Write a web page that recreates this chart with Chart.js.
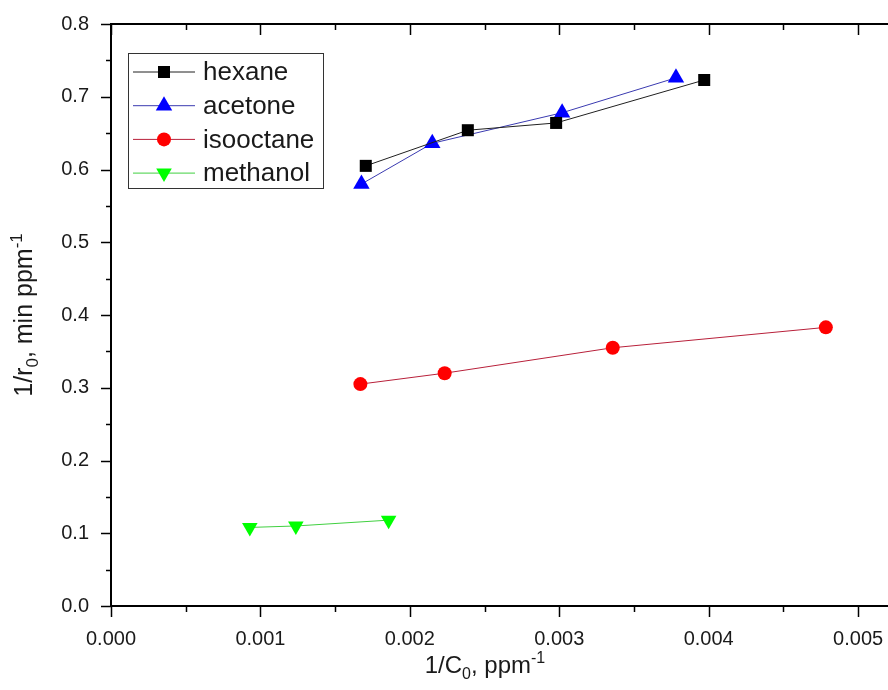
<!DOCTYPE html>
<html>
<head>
<meta charset="utf-8">
<script src="https://cdn.jsdelivr.net/npm/chart.js@4.4.1/dist/chart.umd.min.js"></script>
<style>
  html, body { margin:0; padding:0; background:#fff; overflow:hidden; }
  #wrap { width:888px; height:690px; }
</style>
</head>
<body>
<div id="wrap"><canvas id="chart" width="888" height="690"></canvas></div>
<script>
// tick values
const xTicks = [0, 0.001, 0.002, 0.003, 0.004, 0.005];
const xMinor = [0.0005, 0.0015, 0.0025, 0.0035, 0.0045];
const yTicks = [0, 0.1, 0.2, 0.3, 0.4, 0.5, 0.6, 0.7, 0.8];
const yMinor = [0.05, 0.15, 0.25, 0.35, 0.45, 0.55, 0.65, 0.75];

// series (1/C0 vs 1/r0)
const hexaneX = [0.001705, 0.002388, 0.002979, 0.003970];
const hexaneY = [0.605, 0.654, 0.664, 0.723];
const acetoneX = [0.001676, 0.002150, 0.003019, 0.003781];
const acetoneY = [0.580, 0.636, 0.678, 0.726];
const isooctaneX = [0.001669, 0.002233, 0.003358, 0.004784];
const isooctaneY = [0.305, 0.320, 0.355, 0.383];
const methanolX = [0.000929, 0.001237, 0.001858];
const methanolY = [0.108, 0.110, 0.118];

const FONT = '"Liberation Sans", Arial, sans-serif';

function pts(xs, ys){ return xs.map((x,i)=>({x:x, y:ys[i]})); }

// text with sub/superscripts, y is the baseline
function richText(ctx, parts, x, y, size){
  let w = 0;
  parts.forEach(p=>{ ctx.font = (p.s ? Math.round(size*0.68) : size)+'px '+FONT; w += ctx.measureText(p.t).width; });
  let cx = x - w/2;
  ctx.textAlign = 'left'; ctx.textBaseline = 'alphabetic';
  parts.forEach(p=>{
    const fs = p.s ? Math.round(size*0.68) : size;
    ctx.font = fs+'px '+FONT;
    const dy = p.s==='sub' ? size*0.25 : (p.s==='sup' ? -size*0.42 : 0);
    ctx.fillText(p.t, cx, y+dy);
    cx += ctx.measureText(p.t).width;
  });
}

const framePlugin = {
  id:'frame',
  afterDraw(chart){
    const ctx = chart.ctx, a = chart.chartArea;
    const xs = chart.scales.x, ys = chart.scales.y;
    ctx.save();
    ctx.strokeStyle = '#000'; ctx.lineWidth = 2;
    // top frame line
    ctx.beginPath(); ctx.moveTo(a.left, a.top); ctx.lineTo(a.right, a.top); ctx.stroke();
    // ticks
    ctx.lineWidth = 1.5;
    const tick = (x1,y1,x2,y2)=>{ ctx.beginPath(); ctx.moveTo(x1,y1); ctx.lineTo(x2,y2); ctx.stroke(); };
    xTicks.forEach(v=>{ const p = Math.round(xs.getPixelForValue(v))+0.5; tick(p, a.bottom, p, a.bottom+11); tick(p, a.top, p, a.top+11); });
    xMinor.forEach(v=>{ const p = Math.round(xs.getPixelForValue(v))+0.5; tick(p, a.bottom, p, a.bottom+6); tick(p, a.top, p, a.top+6); });
    yTicks.forEach(v=>{ const p = Math.round(ys.getPixelForValue(v))+0.5; tick(a.left-10, p, a.left, p); });
    yMinor.forEach(v=>{ const p = Math.round(ys.getPixelForValue(v))+0.5; tick(a.left-5, p, a.left, p); });

    // axis titles
    ctx.fillStyle = '#1a1a1a';
    richText(ctx, [{t:'1/C'},{t:'0',s:'sub'},{t:', ppm'},{t:'-1',s:'sup'}], 485, 673, 24);
    ctx.save();
    ctx.translate(32, 315); ctx.rotate(-Math.PI/2);
    richText(ctx, [{t:'1/r'},{t:'0',s:'sub'},{t:', min ppm'},{t:'-1',s:'sup'}], 0, 0, 25);
    ctx.restore();

    // legend box
    const bx = 128, by = 53, bw = 195, bh = 135, row = 33.7;
    ctx.fillStyle = '#fff';
    ctx.fillRect(bx, by, bw, bh);
    ctx.strokeStyle = '#333'; ctx.lineWidth = 1;
    ctx.strokeRect(bx+0.5, by+0.5, bw, bh);
    chart.data.datasets.forEach((ds, i)=>{
      const y = by + 19 + i*row;
      ctx.strokeStyle = ds.borderColor; ctx.lineWidth = 1;
      ctx.beginPath(); ctx.moveTo(bx+5, y); ctx.lineTo(bx+67, y); ctx.stroke();
      ctx.fillStyle = ds.pointBackgroundColor; ctx.strokeStyle = ds.pointBackgroundColor;
      Chart.helpers.drawPoint(ctx, {pointStyle: ds.pointStyle, radius: ds.pointRadius, rotation: ds.pointRotation || 0, borderWidth: 0}, bx+36, y);
      ctx.fillStyle = '#1a1a1a';
      ctx.font = '26px '+FONT; ctx.textAlign = 'left'; ctx.textBaseline = 'middle';
      ctx.fillText(ds.label, bx+75, y+1);
    });
    ctx.restore();
  }
};

const ds = (label, xs, ys, line, fill, style, r, rot) => ({
  label: label, data: pts(xs, ys), showLine: true,
  borderColor: line, borderWidth: 1, backgroundColor: fill,
  pointBackgroundColor: fill, pointBorderColor: fill, pointBorderWidth: 0,
  pointStyle: style, pointRadius: r, pointRotation: rot || 0, pointHoverRadius: r,
  tension: 0
});

new Chart(document.getElementById('chart').getContext('2d'), {
  type: 'scatter',
  data: {
    datasets: [
      ds('hexane', hexaneX, hexaneY, '#202020', '#000000', 'rect', 8.5),
      ds('acetone', acetoneX, acetoneY, '#3a3ab0', '#0000ff', 'triangle', 9.5),
      ds('isooctane', isooctaneX, isooctaneY, '#b8203a', '#ff0000', 'circle', 7),
      ds('methanol', methanolX, methanolY, '#40d040', '#00ff00', 'triangle', 9, 180)
    ]
  },
  options: {
    responsive: false,
    animation: false,
    events: [],
    layout: { autoPadding: false, padding: { top: 24, right: 0, left: 0, bottom: 0 } },
    plugins: { legend: { display: false }, tooltip: { enabled: false } },
    scales: {
      x: {
        type: 'linear', position: 'bottom', min: 0, max: 0.0052,
        afterBuildTicks: s => { s.ticks = xTicks.map(v=>({value:v})); },
        afterFit: s => { s.height = 84; s.paddingRight = 0; s.paddingLeft = 0; },
        grid: { drawOnChartArea: false, drawTicks: false },
        border: { display: true, color: '#000', width: 2 },
        ticks: { padding: 21, color: '#1a1a1a', font: { family: FONT, size: 20 }, maxRotation: 0,
                 callback: v => v.toFixed(3) }
      },
      y: {
        type: 'linear', min: 0, max: 0.8,
        afterBuildTicks: s => { s.ticks = yTicks.map(v=>({value:v})); },
        afterFit: s => { s.width = 111; s.paddingTop = 0; s.paddingBottom = 0; },
        grid: { drawOnChartArea: false, drawTicks: false },
        border: { display: true, color: '#000', width: 2 },
        ticks: { padding: 22, color: '#1a1a1a', font: { family: FONT, size: 20 },
                 callback: v => v.toFixed(1) }
      }
    }
  },
  plugins: [framePlugin]
});
</script>
</body>
</html>
